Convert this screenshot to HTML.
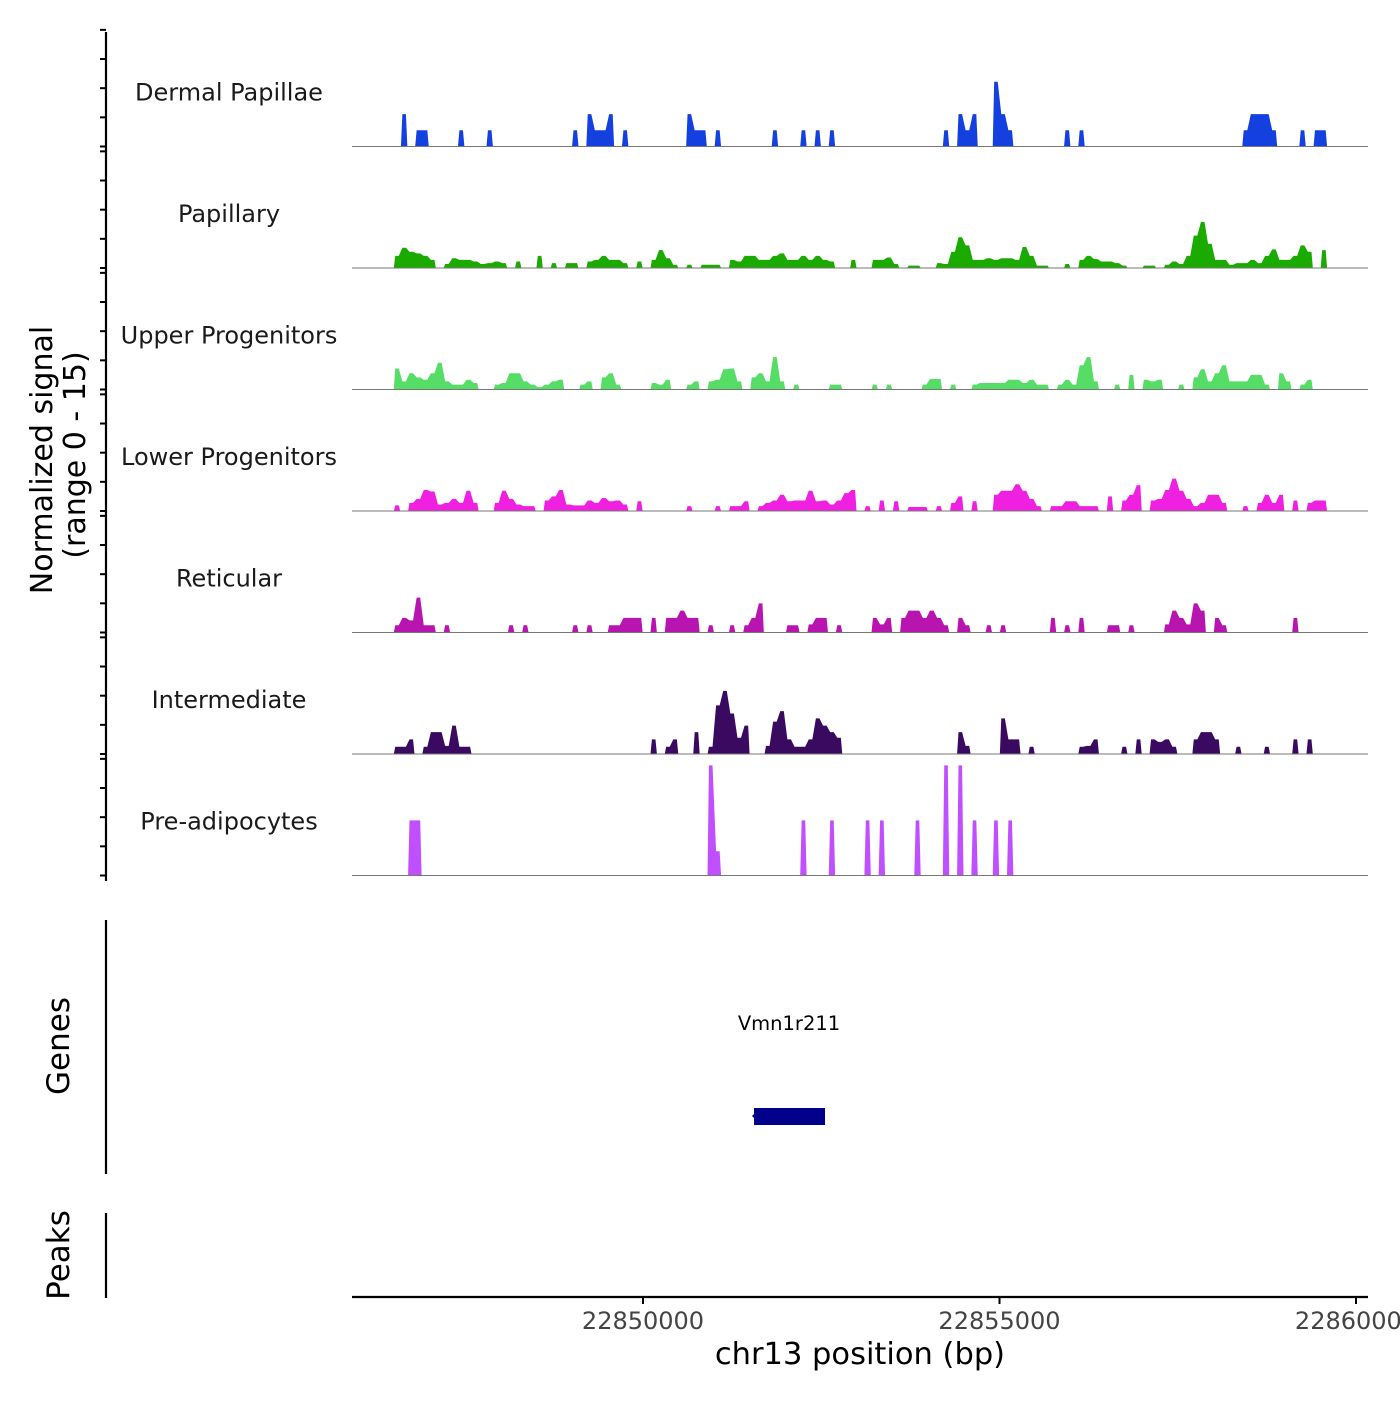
<!DOCTYPE html>
<html><head><meta charset="utf-8"><style>
body{margin:0;background:#fff}
svg text{font-family:"DejaVu Sans","Liberation Sans",sans-serif}
</style></head><body>
<svg id="chart" width="1400" height="1400" viewBox="0 0 1400 1400" xmlns="http://www.w3.org/2000/svg">
<g id="tracks"></g>
<g id="yaxis">
<line x1="106" y1="32" x2="106" y2="881" stroke="#000" stroke-width="2.2"/>
</g>
<text transform="translate(52,460) rotate(-90)" text-anchor="middle" font-size="30" fill="#000">Normalized signal</text>
<text transform="translate(85,455) rotate(-90)" text-anchor="middle" font-size="30" fill="#000">(range 0 - 15)</text>
<g>
<line x1="106" y1="920" x2="106" y2="1174" stroke="#000" stroke-width="2.2"/>
<text transform="translate(69,1046) rotate(-90)" text-anchor="middle" font-size="31" fill="#000">Genes</text>
<text x="789" y="1030" text-anchor="middle" font-size="19.5" fill="#000">Vmn1r211</text>
<rect x="754" y="1108" width="71" height="17" fill="#00008b"/>
<polygon points="752,1116 756,1112 756,1120" fill="#00008b"/>
</g>
<g>
<line x1="106" y1="1213" x2="106" y2="1298" stroke="#000" stroke-width="2.2"/>
<text transform="translate(69,1255) rotate(-90)" text-anchor="middle" font-size="31" fill="#000">Peaks</text>
</g>
<g id="xaxis">
<line x1="352" y1="1297" x2="1368" y2="1297" stroke="#000" stroke-width="2.2"/>
</g>
<text x="860" y="1364" text-anchor="middle" font-size="30.5" fill="#000">chr13 position (bp)</text>
</svg>
<script>
const NS="http://www.w3.org/2000/svg";
const trackNames=["Dermal Papillae","Papillary","Upper Progenitors","Lower Progenitors","Reticular","Intermediate","Pre-adipocytes"];
const trackColors=["#1440e0","#1aaa00","#55dd66","#f020e0","#b815b0","#3a0a60","#c050ff"];
const xTicks=[22850000,22855000,22860000];
const yRange=[0,15];
const binStart=22846500, binSize=100;
// [bin index, normalized signal]
const dermal=[[1,4],[3,2],[4,2],[9,2],[13,2],[25,2],[27,4],[28,2],[29,2],[30,4],[32,2],[41,4],[42,2],[43,2],[45,2],[53,2],[57,2],[59,2],[61,2],[77,2],[79,4],[80,2],[81,4],[84,8],[85,4],[86,2],[94,2],[96,2],[119,2],[120,4],[121,4],[122,4],[123,2],[127,2],[129,2],[130,2]];
const papillary=[[0,1.5],[1,2.5],[2,2],[3,1.8],[4,1.5],[5,1],[7,0.5],[8,1.2],[9,1],[10,1],[11,0.8],[12,0.5],[13,0.6],[14,0.8],[15,0.6],[17,0.8],[20,1.5],[22,0.6],[24,0.6],[25,0.6],[27,0.8],[28,1],[29,1.5],[30,1],[31,1],[32,0.6],[34,0.8],[36,1],[37,2.2],[38,1.2],[39,0.4],[41,0.4],[43,0.4],[44,0.4],[45,0.4],[47,1],[48,0.8],[49,1.5],[50,1.5],[51,1],[52,1],[53,1.5],[54,1.8],[55,1],[56,1],[57,1.5],[58,1],[59,1.5],[60,1],[61,0.8],[64,1],[67,1],[68,1],[69,1.3],[70,0.5],[72,0.3],[73,0.3],[76,0.6],[77,0.5],[78,2],[79,3.8],[80,2.8],[81,1],[82,1],[83,1.2],[84,1],[85,1.2],[86,1.2],[87,1],[88,2.6],[89,1.5],[90,0.3],[91,0.3],[94,0.5],[96,1],[97,1.5],[98,1.1],[99,0.8],[100,0.8],[101,0.6],[102,0.3],[105,0.3],[106,0.3],[108,0.4],[109,0.8],[110,0.5],[111,1.5],[112,4],[113,5.7],[114,3],[115,1],[116,1],[117,0.4],[118,0.6],[119,0.6],[120,1],[121,0.6],[122,1.5],[123,2.3],[124,1],[125,1],[126,1.5],[127,2.8],[128,2],[130,2.2]];
const upper=[[0,2.6],[1,1],[2,2],[3,1.5],[4,1.2],[5,2],[6,3.3],[7,1],[8,0.6],[9,0.6],[10,1.2],[11,0.8],[14,0.6],[15,0.8],[16,2],[17,2],[18,1],[19,0.6],[20,0.3],[21,0.6],[22,1],[23,1.2],[26,0.6],[27,1],[29,1.5],[30,2],[31,0.6],[36,0.8],[37,0.6],[38,1.2],[41,0.6],[42,1],[44,1],[45,1.2],[46,2.5],[47,2.6],[48,1],[50,1.5],[51,2],[52,1],[53,4],[54,1],[56,0.6],[61,0.6],[62,0.6],[67,0.6],[69,0.6],[74,0.6],[75,1.3],[76,1.3],[78,0.6],[81,0.6],[82,0.8],[83,0.8],[84,0.8],[85,0.8],[86,1.2],[87,1.2],[88,0.8],[89,1.2],[90,0.6],[91,0.6],[93,0.6],[94,1.2],[95,0.6],[96,3],[97,4],[98,1],[101,0.6],[103,1.8],[105,1.2],[106,1],[107,1.2],[110,0.6],[112,1.5],[113,2.5],[114,1],[115,2],[116,3],[117,1],[118,1],[119,1],[120,1.8],[121,1.8],[122,0.6],[124,2],[125,1],[127,0.6],[128,1.2]];
const lower=[[0,0.7],[2,1],[3,1.5],[4,2.6],[5,2.4],[6,0.8],[7,1],[8,1.5],[9,1],[10,2.5],[11,1],[14,1],[15,2.5],[16,1.5],[17,0.8],[18,0.6],[19,0.6],[21,1.3],[22,1.8],[23,2.6],[24,0.8],[25,0.7],[26,0.7],[27,1.3],[28,1],[29,1.6],[30,1.2],[31,1.3],[32,0.8],[34,1.2],[41,0.6],[45,0.6],[47,0.6],[48,0.6],[49,1.2],[51,0.6],[52,1],[53,1.3],[54,2],[55,1.2],[56,1.3],[57,1.3],[58,2.5],[59,1.2],[60,1.3],[61,0.8],[62,1.3],[63,2.2],[64,2.6],[66,0.6],[68,1.3],[70,1.2],[72,0.5],[73,0.5],[74,0.5],[76,0.6],[78,1],[79,1.8],[81,1.2],[84,2],[85,2.5],[86,2.5],[87,3.3],[88,2.5],[89,1.5],[90,0.6],[92,0.6],[93,0.6],[94,1.2],[95,1.2],[96,0.6],[97,0.6],[98,0.6],[100,1.8],[102,1.3],[103,2],[104,3.2],[106,1.3],[107,1.5],[108,2.6],[109,4],[110,2.5],[111,1.5],[112,0.6],[113,1],[114,2],[115,2],[116,1],[119,0.6],[121,1],[122,2],[123,1],[124,2],[126,1.3],[128,1],[129,1.3],[130,1.3]];
const reticular=[[0,0.9],[1,1.8],[2,1.5],[3,4.3],[4,0.9],[5,0.9],[7,0.9],[16,0.9],[18,0.9],[25,0.9],[27,0.9],[30,0.9],[31,0.9],[32,1.8],[33,1.8],[34,1.8],[36,1.8],[38,1.8],[39,1.8],[40,2.7],[41,1.8],[42,1.8],[44,0.9],[47,0.9],[49,0.9],[50,1.8],[51,3.6],[55,0.9],[56,0.9],[58,1],[59,1.8],[60,1.8],[62,0.9],[67,1.8],[68,1],[69,1.8],[71,1.8],[72,2.7],[73,2.7],[74,1.8],[75,2.7],[76,1.8],[77,0.9],[79,1.8],[80,0.9],[83,0.9],[85,0.9],[92,1.8],[94,0.9],[96,1.8],[100,0.9],[101,0.9],[103,0.9],[108,1],[109,2.7],[110,1.8],[111,1],[112,3.6],[113,2.7],[115,1.8],[116,0.9],[126,1.8]];
const intermediate=[[0,0.9],[1,0.9],[2,1.8],[4,0.9],[5,2.7],[6,2.7],[7,1],[8,3.5],[9,0.9],[10,0.9],[36,1.8],[38,0.9],[39,1.8],[42,2.7],[44,0.9],[45,6],[46,7.8],[47,5],[48,2],[49,3.5],[52,1],[53,4],[54,5.3],[55,1.8],[56,0.9],[57,0.9],[58,1.8],[59,4.4],[60,3.5],[61,2.7],[62,2],[79,2.7],[80,1],[85,4.4],[86,1.8],[87,1.8],[89,0.9],[96,0.9],[97,1],[98,1.8],[102,0.9],[104,1.8],[106,1.8],[107,1.5],[108,1.8],[109,0.9],[112,1.8],[113,2.7],[114,2.7],[115,1.8],[118,0.9],[122,0.9],[126,1.8],[128,1.8]];
const preadipocytes=[[2,6.8],[3,6.8],[44,13.6],[45,3],[57,6.8],[61,6.8],[66,6.8],[68,6.8],[73,6.8],[77,13.6],[79,13.6],[81,6.8],[84,6.8],[86,6.8]];
const trackData=[dermal,papillary,upper,lower,reticular,intermediate,preadipocytes];
const trackKeys=["dermal-papillae","papillary","upper-progenitors","lower-progenitors","reticular","intermediate","pre-adipocytes"];

const xScale=bp=>643+(bp-22850000)*(356.5/5000);
const trackH=121.5, base0=146.5;
const yScale=(v,k)=>base0+k*trackH-(v-yRange[0])/(yRange[1]-yRange[0])*trackH;

const tracksG=document.getElementById('tracks');
trackData.forEach((data,k)=>{
  const base=yScale(0,k);
  const g=document.createElementNS(NS,'g');
  
  
  const sorted=data.slice().sort((a,b)=>a[0]-b[0]);
  let d='';
  let prev=-10;
  sorted.forEach(([b,v])=>{
    const x0=xScale(binStart+b*binSize), x1=xScale(binStart+(b+1)*binSize);
    const w=x1-x0, y=yScale(v,k);
    if(b!==prev+1){ if(d) d+=`L${xScale(binStart+(prev+1)*binSize)-w*0.05},${base}Z`; d+=`M${x0+w*0.05},${base}`; }
    d+=`L${x0+w*0.25},${y}L${x1-w*0.25},${y}`;
    prev=b;
  });
  if(d) d+=`L${xScale(binStart+(prev+1)*binSize)-0.4},${base}Z`;
  const p=document.createElementNS(NS,'path');
  p.setAttribute('d',d);p.setAttribute('fill',trackColors[k]);
  
  
  g.appendChild(p);
  const bl=document.createElementNS(NS,'line');
  bl.setAttribute('x1',352);bl.setAttribute('x2',1368);bl.setAttribute('y1',base);bl.setAttribute('y2',base);
  bl.setAttribute('stroke','#777');bl.setAttribute('stroke-width','1');
  
  
  g.appendChild(bl);
  const t=document.createElementNS(NS,'text');
  t.setAttribute('x',229);t.setAttribute('y',base-46);t.setAttribute('text-anchor','middle');
  t.setAttribute('font-size','24');t.setAttribute('fill','#1a1a1a');
  t.textContent=trackNames[k];
  
  
  g.appendChild(t);
  tracksG.appendChild(g);
});
const yaxis=document.getElementById('yaxis');
for(let k=0;k<7;k++){
  for(let j=0;j<5;j++){
    const y=yScale(j*3.6,k);
    const l=document.createElementNS(NS,'line');
    l.setAttribute('x1',100);l.setAttribute('x2',106);l.setAttribute('y1',y);l.setAttribute('y2',y);
    l.setAttribute('stroke','#000');l.setAttribute('stroke-width','2');
    
    
    yaxis.appendChild(l);
  }
}
const xaxis=document.getElementById('xaxis');
xTicks.forEach(v=>{
  const x=xScale(v);
  const l=document.createElementNS(NS,'line');
  l.setAttribute('x1',x);l.setAttribute('x2',x);l.setAttribute('y1',1297);l.setAttribute('y2',1304);
  l.setAttribute('stroke','#000');l.setAttribute('stroke-width','2');
  
  
  xaxis.appendChild(l);
  const t=document.createElementNS(NS,'text');
  t.setAttribute('x',x);t.setAttribute('y',1329);t.setAttribute('text-anchor','middle');
  t.setAttribute('font-size','24');t.setAttribute('fill','#444');
  t.textContent=v;
  
  
  xaxis.appendChild(t);
});
</script>
</body></html>
